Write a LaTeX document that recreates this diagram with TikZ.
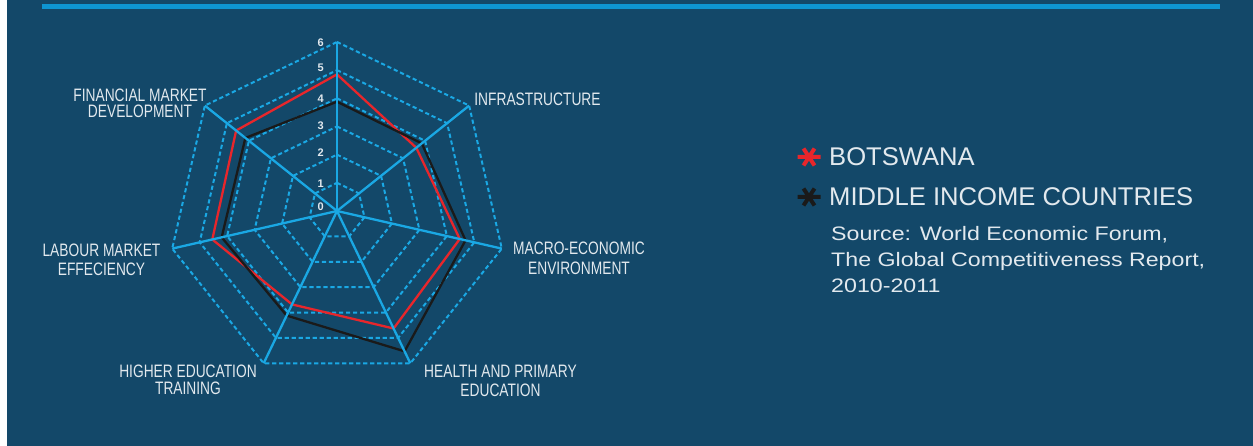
\documentclass[tikz,border=0pt]{standalone}
\usepackage{fontspec}
\setmainfont{Liberation Sans}
\newfontfamily\condfont[FakeStretch=0.765]{Liberation Sans}
\newfontfamily\widefont[FakeStretch=1.19]{Liberation Sans}
\definecolor{bgcol}{HTML}{134869}
\definecolor{barcol}{HTML}{0E95D2}
\definecolor{axcol}{HTML}{1AA8E4}
\definecolor{redcol}{HTML}{E8262B}
\definecolor{blkcol}{HTML}{1A1A1A}
\definecolor{txtcol}{HTML}{E2E9EE}
\tikzset{
  gridline/.style={draw=axcol, line width=2pt, dash pattern=on 4.2pt off 2.8pt},
  axisline/.style={draw=axcol, line width=2.3pt},
  botsline/.style={draw=redcol, line width=2.3pt},
  midline/.style={draw=blkcol, line width=2.3pt},
  lab/.style={font=\condfont\fontsize{18}{19}\selectfont, text=txtcol, inner sep=0pt, anchor=base},
  numlab/.style={font=\bfseries\fontsize{11}{12}\selectfont, text=txtcol, inner sep=0pt},
  legtxt/.style={font=\fontsize{25.6}{27}\selectfont, text=txtcol, inner sep=0pt, anchor=base west},
  srctxt/.style={font=\widefont\fontsize{19.5}{22}\selectfont, text=txtcol, inner sep=0pt, anchor=base west},
}
\begin{document}
\begin{tikzpicture}[x=1pt, y=-1pt]
\useasboundingbox (0,0) rectangle (1253,446);
\fill[white] (0,0) rectangle (1253,446);
\fill[bgcol] (7,0) rectangle (1253,446);
\fill[barcol] (42,4) rectangle (1220,8.7);
\def\u{28.17}
\begin{scope}[shift={(337,211)}, x=1pt, y=1pt]
  \coordinate (C) at (0,0);
  \foreach \L in {1,...,6}{
    \draw[gridline] (90:\L*\u) \foreach \k in {1,...,6}{ -- ({90-\k*360/7}:\L*\u)} -- cycle;
  }
  \draw[botsline] (90:4.85*\u) -- ({90-1*360/7}:3.6*\u) -- ({90-2*360/7}:4.47*\u)
     -- ({90-3*360/7}:4.63*\u) -- ({90-4*360/7}:3.68*\u) -- ({90-5*360/7}:4.54*\u)
     -- ({90-6*360/7}:4.58*\u) -- cycle;
  \draw[midline] (90:3.88*\u) -- ({90-1*360/7}:3.85*\u) -- ({90-2*360/7}:4.68*\u)
     -- ({90-3*360/7}:5.53*\u) -- ({90-4*360/7}:4.12*\u) -- ({90-5*360/7}:4.2*\u)
     -- ({90-6*360/7}:4.16*\u) -- cycle;
  \foreach \k in {0,...,6}{
    \coordinate (a\k) at ({90-\k*360/7}:6*\u);
    \draw[axisline] (C) -- (a\k);
  }
\end{scope}
% scale numbers
\node[numlab] (n6) at (320.7,43) {6};
\node[numlab] (n5) at (320.7,67.5) {5};
\node[numlab] (n4) at (320.7,98.5) {4};
\node[numlab] (n3) at (320.7,125.3) {3};
\node[numlab] (n2) at (320.7,153) {2};
\node[numlab] (n1) at (320.7,183.7) {1};
\node[numlab] (n0) at (320.7,207) {0};
% axis labels
\node[lab] (fin1) at (140,101.5) {FINANCIAL MARKET};
\node[lab] (fin2) at (140,118) {DEVELOPMENT};
\node[lab] (inf) at (537.5,105.7) {INFRASTRUCTURE};
\node[lab] (mac1) at (579,255) {MACRO-ECONOMIC};
\node[lab] (mac2) at (579,274.5) {ENVIRONMENT};
\node[lab] (hea1) at (500.5,377) {HEALTH AND PRIMARY};
\node[lab] (hea2) at (500.5,396) {EDUCATION};
\node[lab] (hig1) at (188,377) {HIGHER EDUCATION};
\node[lab] (hig2) at (188,394.5) {TRAINING};
\node[lab] (lab1) at (101.5,256.5) {LABOUR MARKET};
\node[lab] (lab2) at (101.5,276) {EFFECIENCY};
% legend
\draw[redcol, line width=4pt] (797.5,157) -- (820.5,157) (803.5,148.5) -- (814.5,165.5) (814.5,148.5) -- (803.5,165.5);
\draw[blkcol, line width=4pt] (797.5,197) -- (820.5,197) (803.5,188.5) -- (814.5,205.5) (814.5,188.5) -- (803.5,205.5);
\node[legtxt] (leg1) at (829,166) {BOTSWANA};
\node[legtxt] (leg2) at (829,206) {MIDDLE INCOME COUNTRIES};
\node[srctxt] (src1) at (831,241) {Source: World Economic Forum,};
\node[srctxt] (src2) at (831,267) {The Global Competitiveness Report,};
\node[srctxt] (src3) at (831,293) {2010-2011};
\end{tikzpicture}
\end{document}
